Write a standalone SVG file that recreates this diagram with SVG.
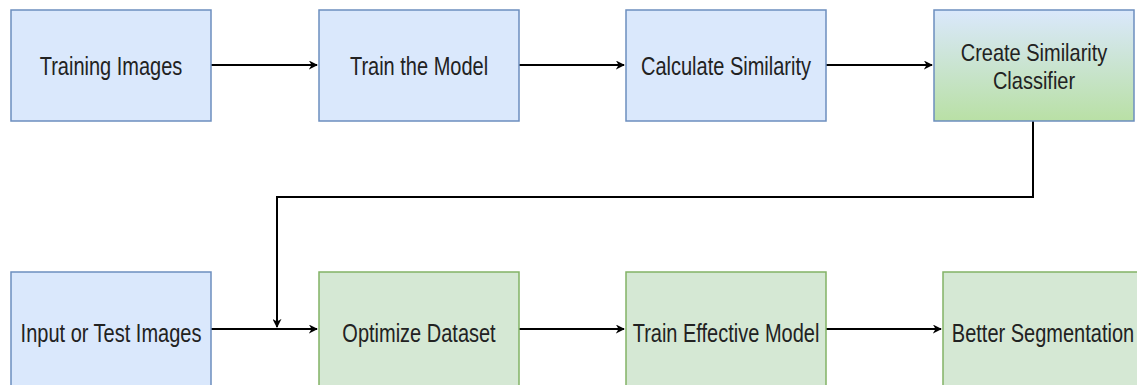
<svg xmlns="http://www.w3.org/2000/svg" width="1137" height="385" viewBox="0 0 1137 385">
<style>
.b{fill:#dae8fc;stroke:#6c8ebf;stroke-width:1.5}
.g{fill:#d5e8d4;stroke:#82b366;stroke-width:1.5}
.t{font-family:"Liberation Sans",Arial,sans-serif;font-size:20px;fill:#222;text-anchor:middle}
.c{fill:none;stroke:#000;stroke-width:2}
</style>
<defs>
<linearGradient id="gr" x1="0" y1="0" x2="0" y2="1">
<stop offset="0" stop-color="#dae8fc"/>
<stop offset="1" stop-color="#b9e0a5"/>
</linearGradient>
<marker id="a" viewBox="0 0 10 10" refX="9" refY="5" markerWidth="9" markerHeight="9" markerUnits="userSpaceOnUse" orient="auto">
<path d="M0,0 L10,5 L0,10 L3,5 z" fill="#000"/>
</marker>
</defs>
<g id="connectors">
<path class="c" d="M211,65 H317" marker-end="url(#a)"/>
<path class="c" d="M519,65 H624" marker-end="url(#a)"/>
<path class="c" d="M826,65 H932" marker-end="url(#a)"/>
<path class="c" d="M1033,121 V197 H277 V327" marker-end="url(#a)"/>
<path class="c" d="M211,329 H317" marker-end="url(#a)"/>
<path class="c" d="M519,329 H624" marker-end="url(#a)"/>
<path class="c" d="M826,329 H941" marker-end="url(#a)"/>
</g>
<g id="training-images"><rect class="b" x="11" y="10" width="200" height="111"/><text class="t" transform="translate(111,75) scale(1,1.3)">Training Images</text></g>
<g id="train-model"><rect class="b" x="319" y="10" width="200" height="111"/><text class="t" transform="translate(419,75) scale(1,1.3)">Train the Model</text></g>
<g id="calc-similarity"><rect class="b" x="626" y="10" width="200" height="111"/><text class="t" transform="translate(726,75) scale(1,1.3)">Calculate Similarity</text></g>
<g id="create-classifier"><rect x="934" y="10" width="200" height="111" fill="url(#gr)" stroke="#6c8ebf" stroke-width="1.5"/><text class="t" transform="translate(1034,61) scale(1,1.22)">Create Similarity</text><text class="t" transform="translate(1034,89) scale(1,1.22)">Classifier</text></g>
<g id="input-test"><rect class="b" x="11" y="272" width="200" height="120"/><text class="t" transform="translate(111,342) scale(1,1.3)">Input or Test Images</text></g>
<g id="optimize"><rect class="g" x="319" y="272" width="200" height="120"/><text class="t" transform="translate(419,342) scale(1,1.3)">Optimize Dataset</text></g>
<g id="train-effective"><rect class="g" x="626" y="272" width="200" height="120"/><text class="t" transform="translate(726,342) scale(1,1.3)">Train Effective Model</text></g>
<g id="better-seg"><rect class="g" x="943" y="272" width="200" height="120"/><text class="t" transform="translate(1043,342) scale(1,1.3)">Better Segmentation</text></g>
</svg>
